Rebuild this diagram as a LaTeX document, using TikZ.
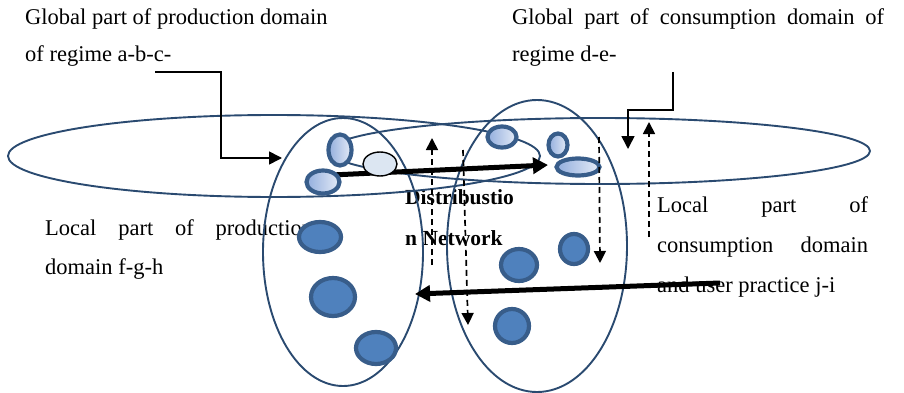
\documentclass[tikz,border=0pt]{standalone}
\usepackage{fontspec}
\setmainfont{Liberation Serif}
\usetikzlibrary{shapes.geometric,arrows.meta}
\definecolor{outl}{HTML}{2A4A70}
\definecolor{bubedge}{HTML}{385D8A}
\definecolor{bubfill}{HTML}{4F81BD}
\definecolor{lightA}{HTML}{93AEDD}
\definecolor{lightB}{HTML}{E4EBF7}
\definecolor{greyfill}{HTML}{DCE6F2}
\begin{document}
\begin{tikzpicture}[x=1pt,y=-1pt,
  region/.style={ellipse, draw=outl, line width=1.9pt, inner sep=0pt},
  darkbub/.style={ellipse, draw=bubedge, fill=bubfill, line width=4.2pt, inner sep=0pt},
  lightbub/.style={ellipse, draw=bubedge, line width=4.2pt, inner sep=0pt, left color=lightA, right color=lightB},
  greybub/.style={ellipse, draw=black, fill=greyfill, line width=1.4pt, inner sep=0pt},
  txt/.style={anchor=base west, inner sep=0pt, font=\fontsize{22.5}{39}\selectfont},
  btxt/.style={anchor=base west, inner sep=0pt, font=\fontsize{21.5}{39}\selectfont\bfseries},
  thickarrow/.style={line width=5pt, -{Triangle[length=15pt,width=16pt]}},
  dasharrow/.style={line width=1.7pt, dash pattern=on 6pt off 4pt, -{Triangle[length=12pt,width=12pt]}},
  elbowarrow/.style={line width=1.6pt, -{Triangle[length=13pt,width=13pt]}}
]
\useasboundingbox (0,0) rectangle (904,393);

% texts
\node[txt] (t1a) at (25,25) {Global part of production domain};
\node[txt] (t1b) at (25,62) {of regime a-b-c-};
\node[txt] (t2a) at (512,25) {\hbox to 372pt{Global\hfill part\hfill of\hfill consumption\hfill domain\hfill of}};
\node[txt] (t2b) at (512,62) {regime d-e-};
\node[txt] (t3a) at (45,235) {\hbox to 268pt{Local\hfill part\hfill of\hfill production}};
\node[txt] (t3b) at (45,274) {domain f-g-h};
\node[txt] (t4a) at (657,212) {\hbox to 211pt{Local\hfill part\hfill of}};
\node[txt] (t4b) at (657,252) {\hbox to 211pt{consumption\hfill domain}};
\node[txt] (t4c) at (657,292) {and user practice j-i};
\node[btxt] (t5a) at (405,204) {Distribustio};
\node[btxt] (t5b) at (405,245) {n Network};

% regions
\node[region, minimum width=532pt, minimum height=82pt] (A) at (274,156) {};
\node[region, minimum width=540pt, minimum height=66pt] (B) at (600,151) {};
\node[region, minimum width=160pt, minimum height=268pt] (C) at (343,252) {};
\node[region, minimum width=180pt, minimum height=292pt] (D) at (537,246) {};

% arrow endpoints
\coordinate (p1s) at (310,176);
\coordinate (p1e) at (548,165);
\coordinate (p2s) at (720,283);
\coordinate (p2e) at (415,294);
\coordinate (u1s) at (432,265);
\coordinate (u1e) at (432,138);
\coordinate (v1s) at (463,150);
\coordinate (v1e) at (468,325);
\coordinate (v2s) at (599,137);
\coordinate (v2e) at (600,263);
\coordinate (u2s) at (649,237);
\coordinate (u2e) at (649,122);
\coordinate (e1s) at (155,72);
\coordinate (e1a) at (221,72);
\coordinate (e1b) at (221,158);
\coordinate (e1e) at (282,158);
\coordinate (e2s) at (673,72);
\coordinate (e2a) at (673,110);
\coordinate (e2b) at (628,110);
\coordinate (e2e) at (628,149);

% flow behind the bubbles
\draw[thickarrow] (p1s) -- (p1e);

% light bubbles
\node[lightbub, minimum width=23pt, minimum height=31pt] (l1) at (340,150) {};
\node[lightbub, minimum width=33pt, minimum height=23pt] (l2) at (323,182) {};
\node[greybub, minimum width=34pt, minimum height=24pt] (g1) at (380,164) {};
\node[lightbub, minimum width=29pt, minimum height=21pt] (l3) at (502,137) {};
\node[lightbub, minimum width=19pt, minimum height=23pt] (l4) at (558,145) {};
\node[lightbub, minimum width=43pt, minimum height=17pt] (l5) at (578,167) {};

% dark bubbles
\node[darkbub, minimum width=42pt, minimum height=30pt] (c1) at (320,237) {};
\node[darkbub, minimum width=44pt, minimum height=38pt] (c2) at (333,297) {};
\node[darkbub, minimum width=40pt, minimum height=32pt] (c3) at (376,348) {};
\node[darkbub, minimum width=36pt, minimum height=32pt] (d1) at (519,265) {};
\node[darkbub, minimum width=28pt, minimum height=30pt] (d2) at (574,249) {};
\node[darkbub, minimum width=34pt, minimum height=34pt] (d3) at (512,326) {};

\draw[thickarrow] (p2s) -- (p2e);
\draw[dasharrow] (u1s) -- (u1e);
\draw[dasharrow] (v1s) -- (v1e);
\draw[dasharrow] (v2s) -- (v2e);
\draw[dasharrow] (u2s) -- (u2e);
\draw[elbowarrow] (e1s) -- (e1a) -- (e1b) -- (e1e);
\draw[elbowarrow] (e2s) -- (e2a) -- (e2b) -- (e2e);
\end{tikzpicture}
\end{document}
